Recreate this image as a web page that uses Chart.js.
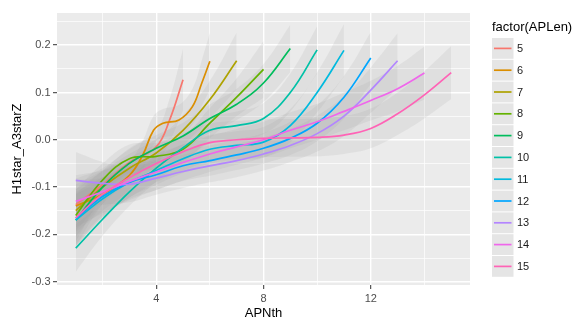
<!DOCTYPE html>
<html>
<head>
<meta charset="utf-8">
<script src="https://cdn.jsdelivr.net/npm/chart.js@4.4.1/dist/chart.umd.min.js"></script>
<style>
  html, body { margin: 0; padding: 0; background: #fff; }
</style>
</head>
<body>
<canvas id="chart" width="579" height="320"></canvas>
<script>
// APLen groups and ggplot default hue colours
const groups = ['5', '6', '7', '8', '9', '10', '11', '12', '13', '14', '15'];
const colors = ['#F8766D', '#DB8E00', '#AEA200', '#64B200', '#00BD5C', '#00C1A7',
                '#00BADE', '#00A6FF', '#B385FF', '#EF67EB', '#FF63B6'];

// smoothed H1star_A3starZ per APNth, plus half width of the grey band
const x5 = [1, 2, 3, 4, 4.5, 5];
const y5 = [-0.137, -0.095, -0.048, -0.015, 0.042, 0.127];
const se5 = [0.055, 0.035, 0.03, 0.035, 0.045, 0.065];

const x6 = [1, 2, 3, 3.5, 3.9, 4.25, 4.85, 5.35, 5.7, 6];
const y6 = [-0.14, -0.115, -0.075, -0.032, 0.02, 0.035, 0.042, 0.07, 0.12, 0.166];
const se6 = [0.055, 0.035, 0.03, 0.03, 0.03, 0.03, 0.032, 0.038, 0.048, 0.06];

const x7 = [1, 2, 3, 4, 5, 6, 7];
const y7 = [-0.15, -0.1, -0.06, -0.028, 0.02, 0.085, 0.167];
const se7 = [0.055, 0.035, 0.03, 0.03, 0.032, 0.04, 0.06];

const x8 = [1, 2, 3, 4, 5, 6, 7, 8];
const y8 = [-0.16, -0.085, -0.04, -0.035, -0.02, 0.035, 0.09, 0.149];
const se8 = [0.055, 0.035, 0.03, 0.028, 0.028, 0.032, 0.04, 0.06];

const x9 = [1, 2, 3, 4, 5, 6, 7, 8, 9];
const y9 = [-0.17, -0.1, -0.05, -0.018, 0.008, 0.045, 0.075, 0.12, 0.193];
const se9 = [0.055, 0.035, 0.03, 0.028, 0.028, 0.03, 0.033, 0.04, 0.05];

const x10 = [1, 2, 3, 4, 5, 6, 7, 8, 9, 10];
const y10 = [-0.229, -0.168, -0.11, -0.06, -0.017, 0.02, 0.03, 0.045, 0.1, 0.19];
const se10 = [0.05, 0.035, 0.03, 0.028, 0.028, 0.028, 0.03, 0.033, 0.04, 0.05];

const x11 = [1, 2, 3, 4, 5, 6, 7, 8, 9, 10, 11];
const y11 = [-0.17, -0.125, -0.09, -0.065, -0.04, -0.02, -0.012, -0.005, 0.03, 0.1, 0.189];
const se11 = [0.055, 0.04, 0.032, 0.03, 0.03, 0.03, 0.03, 0.032, 0.035, 0.042, 0.055];

const x12 = [1, 2, 3, 4, 5, 6, 7, 8, 9, 10, 11, 12];
const y12 = [-0.166, -0.12, -0.09, -0.074, -0.055, -0.044, -0.032, -0.018, 0.003, 0.035, 0.09, 0.173];
const se12 = [0.055, 0.04, 0.035, 0.032, 0.032, 0.032, 0.032, 0.032, 0.035, 0.038, 0.045, 0.055];

const x13 = [1, 2, 3, 4, 5, 6, 7, 8, 9, 10, 11, 12, 13];
const y13 = [-0.086, -0.092, -0.094, -0.081, -0.067, -0.055, -0.044, -0.03, -0.012, 0.013, 0.05, 0.105, 0.167];
const se13 = [0.06, 0.045, 0.038, 0.035, 0.035, 0.035, 0.035, 0.035, 0.035, 0.038, 0.042, 0.048, 0.058];

const x14 = [1, 2, 3, 4, 5, 6, 7, 8, 9, 10, 11, 12, 13, 14];
const y14 = [-0.13, -0.11, -0.088, -0.068, -0.048, -0.03, -0.015, 0.0, 0.02, 0.038, 0.06, 0.083, 0.108, 0.141];
const se14 = [0.055, 0.045, 0.04, 0.038, 0.038, 0.038, 0.038, 0.038, 0.038, 0.038, 0.04, 0.042, 0.048, 0.056];

const x15 = [1, 2, 3, 4, 5, 6, 7, 8, 9, 10, 11, 12, 13, 14, 15];
const y15 = [-0.165, -0.115, -0.08, -0.05, -0.025, -0.006, 0.0, 0.003, 0.004, 0.005, 0.01, 0.024, 0.055, 0.095, 0.142];
const se15 = [0.06, 0.048, 0.042, 0.04, 0.04, 0.04, 0.04, 0.04, 0.04, 0.04, 0.04, 0.042, 0.045, 0.05, 0.056];

// axis breaks
const xMajor = [4, 8, 12];
const xMinor = [2, 6, 10, 14];
const yMajor = [-0.3, -0.2, -0.1, 0, 0.1, 0.2];
const yMinor = [-0.25, -0.15, -0.05, 0.05, 0.15, 0.25];

const xs = [x5, x6, x7, x8, x9, x10, x11, x12, x13, x14, x15];
const ys = [y5, y6, y7, y8, y9, y10, y11, y12, y13, y14, y15];
const ses = [se5, se6, se7, se8, se9, se10, se11, se12, se13, se14, se15];

const FONT = '"Liberation Sans", Arial, sans-serif';
const bandFill = 'rgba(153,153,153,0.14)';

const isMajorX = v => xMajor.includes(v);
const isMajorY = v => yMajor.some(m => Math.abs(m - v) < 1e-9);

const datasets = [];
// lines (later groups drawn on top, like ggplot)
groups.forEach((g, i) => {
  datasets.push({
    label: g,
    data: xs[i].map((x, j) => ({ x: x, y: ys[i][j] })),
    borderColor: colors[i],
    borderWidth: 1.7,
    pointRadius: 0,
    fill: false,
    tension: 0.4,
    order: groups.length - i
  });
});
// confidence ribbons
groups.forEach((g, i) => {
  datasets.push({
    label: 'band',
    data: xs[i].map((x, j) => ({ x: x, y: ys[i][j] + ses[i][j] })),
    borderColor: 'transparent',
    borderWidth: 0,
    pointRadius: 0,
    backgroundColor: bandFill,
    fill: '+1',
    tension: 0.4,
    order: 50
  });
  datasets.push({
    label: 'band',
    data: xs[i].map((x, j) => ({ x: x, y: ys[i][j] - ses[i][j] })),
    borderColor: 'transparent',
    borderWidth: 0,
    pointRadius: 0,
    fill: false,
    tension: 0.4,
    order: 50
  });
});

// grey panel behind the grid
const panelBg = {
  id: 'panelBg',
  beforeDraw(chart) {
    const { ctx, chartArea: a } = chart;
    ctx.save();
    ctx.fillStyle = '#EBEBEB';
    ctx.fillRect(a.left, a.top, a.right - a.left, a.bottom - a.top);
    ctx.restore();
  }
};

// ggplot style legend on the right
const ggLegend = {
  id: 'ggLegend',
  afterDraw(chart) {
    const ctx = chart.ctx;
    ctx.save();
    ctx.fillStyle = '#000';
    ctx.font = '13px ' + FONT;
    ctx.textBaseline = 'alphabetic';
    ctx.fillText('factor(APLen)', 492, 31);
    groups.forEach((g, i) => {
      const top = 38 + i * 21.8;
      ctx.fillStyle = '#E5E5E5';
      ctx.fillRect(492, top, 21.5, 20.8);
      ctx.strokeStyle = colors[i];
      ctx.lineWidth = 1.7;
      ctx.beginPath();
      ctx.moveTo(494, top + 10.4);
      ctx.lineTo(511.5, top + 10.4);
      ctx.stroke();
      ctx.fillStyle = '#1A1A1A';
      ctx.font = '11px ' + FONT;
      ctx.textBaseline = 'middle';
      ctx.fillText(g, 517, top + 11);
    });
    ctx.restore();
  }
};

new Chart(document.getElementById('chart'), {
  type: 'line',
  data: { datasets: datasets },
  plugins: [panelBg, ggLegend],
  options: {
    responsive: false,
    animation: false,
    devicePixelRatio: 1,
    layout: { padding: { top: 13, right: 109, left: 0, bottom: 0 } },
    plugins: { legend: { display: false }, tooltip: { enabled: false } },
    scales: {
      x: {
        type: 'linear',
        min: 0.3,
        max: 15.7,
        afterBuildTicks: s => {
          s.ticks = xMinor.concat(xMajor).sort((a, b) => a - b).map(v => ({ value: v }));
        },
        afterFit: s => { s.height = 35; },
        border: { display: false },
        grid: {
          color: '#FFFFFF',
          lineWidth: c => (c.tick && isMajorX(c.tick.value)) ? 1.4 : 0.7,
          tickLength: 4,
          tickWidth: 1,
          tickColor: c => (c.tick && isMajorX(c.tick.value)) ? '#333333' : 'rgba(0,0,0,0)'
        },
        ticks: {
          autoSkip: false,
          maxRotation: 0,
          padding: 3.5,
          color: '#4D4D4D',
          font: { family: FONT, size: 11 },
          callback: v => isMajorX(v) ? String(v) : ''
        },
        title: {
          display: true,
          text: 'APNth',
          color: '#000',
          font: { family: FONT, size: 13, lineHeight: 1 },
          padding: { top: 0, bottom: 0 }
        }
      },
      y: {
        type: 'linear',
        min: -0.307,
        max: 0.268,
        afterBuildTicks: s => {
          s.ticks = yMinor.concat(yMajor).sort((a, b) => a - b).map(v => ({ value: v }));
        },
        afterFit: s => { s.width = 57; },
        border: { display: false },
        grid: {
          color: '#FFFFFF',
          lineWidth: c => (c.tick && isMajorY(c.tick.value)) ? 1.4 : 0.7,
          tickLength: 4,
          tickWidth: 1,
          tickColor: c => (c.tick && isMajorY(c.tick.value)) ? '#333333' : 'rgba(0,0,0,0)'
        },
        ticks: {
          autoSkip: false,
          padding: 2.5,
          color: '#4D4D4D',
          font: { family: FONT, size: 11 },
          callback: v => isMajorY(v) ? v.toFixed(1) : ''
        },
        title: {
          display: true,
          text: 'H1star_A3starZ',
          color: '#000',
          font: { family: FONT, size: 13, lineHeight: 1 },
          padding: { top: 10.7, bottom: 0 }
        }
      }
    }
  }
});
</script>
</body>
</html>
